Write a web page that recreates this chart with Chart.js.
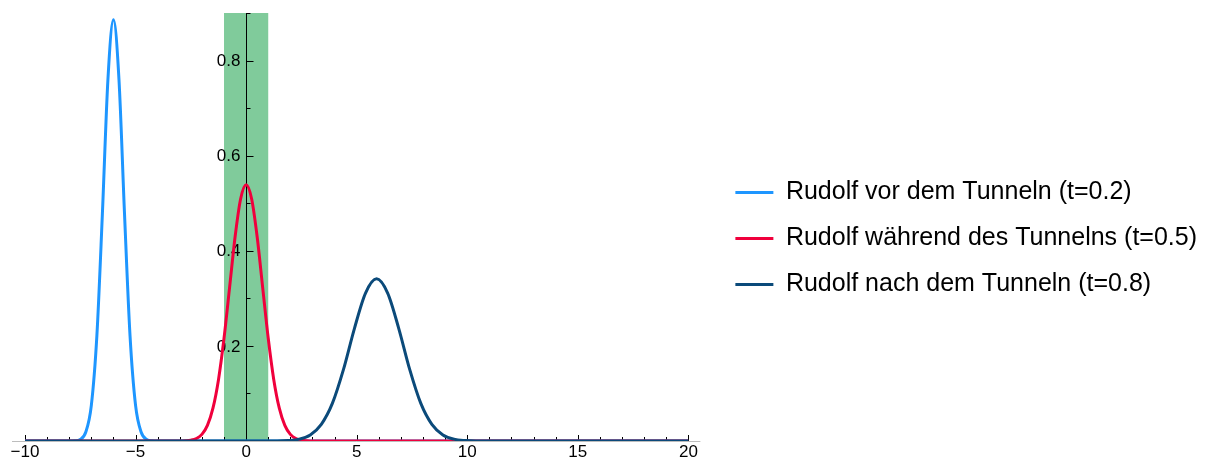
<!DOCTYPE html>
<html>
<head>
<meta charset="utf-8">
<script src="https://cdn.jsdelivr.net/npm/chart.js@4.4.1/dist/chart.umd.min.js"></script>
<style>
  html, body { margin: 0; padding: 0; background: #fff; }
  #wrap { width: 1209px; height: 465px; }
</style>
</head>
<body>
<div id="wrap"><canvas id="rudolf"></canvas></div>
<script>
// series
const seriesNames = [
  'Rudolf vor dem Tunneln (t=0.2)',
  'Rudolf während des Tunnelns (t=0.5)',
  'Rudolf nach dem Tunneln (t=0.8)'
];
const seriesColors = ['#1e96ff', '#f0003c', '#0b4a7a'];

const xBefore = [-10, -8, -7.75, -7.5, -7.25, -7, -6.75, -6.5, -6.25, -6, -5.75, -5.5, -5.25, -5, -4.75, -4.5, -4.25, -4, 20];
const yBefore = [0, 0, 0.0005, 0.0035, 0.019, 0.075, 0.221, 0.478, 0.76, 0.886, 0.76, 0.478, 0.221, 0.075, 0.019, 0.0035, 0.0005, 0, 0];

const xDuring = [-10, -3, -2.75, -2.5, -2.25, -2, -1.75, -1.5, -1.25, -1, -0.75, -0.5, -0.25, 0, 0.25, 0.5, 0.75, 1, 1.25, 1.5, 1.75, 2, 2.25, 2.5, 2.75, 3, 20];
const yDuring = [0, 0, 0.0005, 0.0018, 0.0053, 0.014, 0.033, 0.069, 0.129, 0.216, 0.322, 0.429, 0.509, 0.539, 0.509, 0.429, 0.322, 0.216, 0.129, 0.069, 0.033, 0.014, 0.0053, 0.0018, 0.0005, 0, 0];

const xAfter = [-10, 1.4, 1.9, 2.4, 2.9, 3.4, 3.9, 4.4, 4.9, 5.4, 5.9, 6.4, 6.9, 7.4, 7.9, 8.4, 8.9, 9.4, 9.9, 10.4, 20];
const yAfter = [0, 0, 0.001, 0.0039, 0.0127, 0.035, 0.079, 0.15, 0.237, 0.311, 0.341, 0.311, 0.237, 0.15, 0.079, 0.035, 0.0127, 0.0039, 0.001, 0, 0];

const xTickValues = [-10, -5, 0, 5, 10, 15, 20];
const yTickValues = [0.2, 0.4, 0.6, 0.8];
const barrier = [-1, 1];

const pts = (xs, ys) => xs.map((v, i) => ({ x: v, y: ys[i] }));
const allX = [xBefore, xDuring, xAfter];
const allY = [yBefore, yDuring, yAfter];

const FONT = "'Liberation Sans', Arial, sans-serif";

const axesPlugin = {
  id: 'axes',
  afterLayout(chart) {
    // leave a wider gap between plot and legend, like the original
    const lg = chart.legend;
    if (lg) { lg.left += 26; lg.right += 26; }
  },
  beforeDatasetsDraw(chart) {
    const { ctx, chartArea, scales: { x, y } } = chart;
    const y0 = y.getPixelForValue(0);
    const x0 = x.getPixelForValue(0);
    ctx.save();
    // tunnel barrier
    ctx.fillStyle = '#80cb9b';
    const b0 = x.getPixelForValue(barrier[0]);
    const b1 = x.getPixelForValue(barrier[1]);
    ctx.fillRect(b0, chartArea.top, b1 - b0, y0 - chartArea.top);

    // horizontal axis
    ctx.strokeStyle = '#bdbdbd';
    ctx.lineWidth = 1;
    ctx.beginPath();
    ctx.moveTo(chartArea.left - 13, y0 + 0.5);
    ctx.lineTo(chartArea.right + 12, y0 + 0.5);
    ctx.stroke();

    ctx.strokeStyle = '#000';
    ctx.beginPath();
    for (let v = x.min; v <= x.max; v += 1) {
      const px = Math.round(x.getPixelForValue(v)) + 0.5;
      const len = v % 5 === 0 ? 6 : 4;
      ctx.moveTo(px, y0);
      ctx.lineTo(px, y0 - len);
    }
    // vertical axis
    const ax = Math.round(x0) + 0.5;
    ctx.moveTo(ax, y0);
    ctx.lineTo(ax, chartArea.top);
    for (let k = 1; k <= 9; k++) {
      const v = k / 10;
      const py = Math.round(y.getPixelForValue(v)) + 0.5;
      const len = k % 2 === 0 ? 7 : 4;
      ctx.moveTo(ax, py);
      ctx.lineTo(ax + len, py);
    }
    ctx.stroke();

    ctx.fillStyle = '#000';
    ctx.font = '17px ' + FONT;
    ctx.textAlign = 'right';
    ctx.textBaseline = 'middle';
    yTickValues.forEach(v => {
      ctx.fillText(v.toFixed(1), ax - 6, y.getPixelForValue(v) + 1);
    });
    ctx.restore();
  }
};

new Chart(document.getElementById('rudolf'), {
  type: 'line',
  data: {
    datasets: seriesNames.map((name, i) => ({
      label: name,
      data: pts(allX[i], allY[i]),
      borderColor: seriesColors[i],
      backgroundColor: seriesColors[i],
      borderWidth: 3,
      pointRadius: 0,
      fill: false,
      cubicInterpolationMode: 'monotone',
      order: 2 - i
    }))
  },
  options: {
    responsive: true,
    maintainAspectRatio: false,
    animation: false,
    layout: { padding: { left: 25, top: 13, right: 28, bottom: 1 } },
    plugins: {
      tooltip: { enabled: false },
      legend: {
        position: 'right',
        labels: {
          usePointStyle: true,
          pointStyle: 'line',
          pointStyleWidth: 38,
          color: '#000',
          padding: 21,
          font: { family: FONT, size: 25 },
          sort: (a, b) => a.datasetIndex - b.datasetIndex
        }
      }
    },
    scales: {
      x: {
        type: 'linear',
        min: -10,
        max: 20,
        afterBuildTicks: s => { s.ticks = xTickValues.map(v => ({ value: v })); },
        ticks: {
          color: '#000',
          padding: 3,
          font: { family: FONT, size: 17, lineHeight: 1 },
          maxRotation: 0,
          callback: v => v < 0 ? '\u2212' + Math.abs(v) : String(v)
        },
        grid: { display: false, drawTicks: false },
        border: { display: false }
      },
      y: {
        display: false,
        min: 0,
        max: 0.9
      }
    }
  },
  plugins: [axesPlugin]
});
</script>
</body>
</html>
